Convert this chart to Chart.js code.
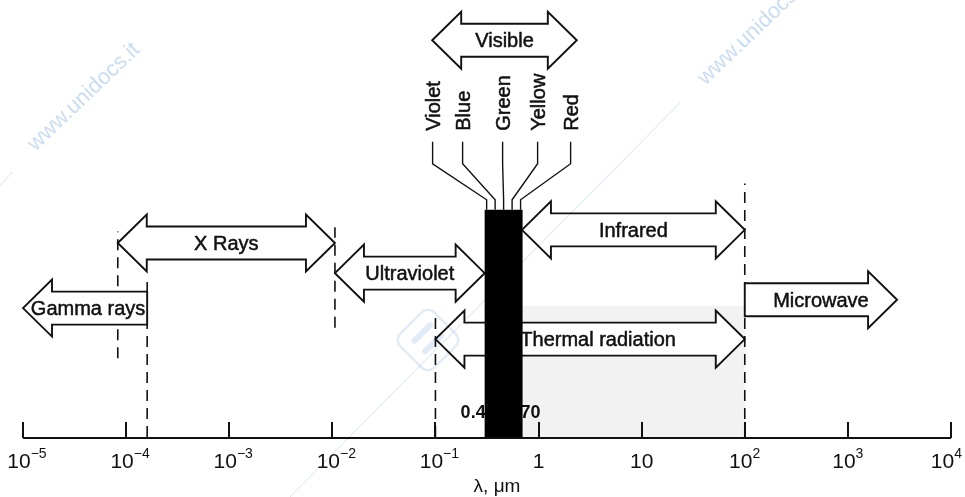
<!DOCTYPE html>
<html>
<head>
<meta charset="utf-8">
<script src="https://cdn.jsdelivr.net/npm/chart.js@4.4.1/dist/chart.umd.min.js"></script>
<style>
  html, body { margin: 0; padding: 0; background: #fff; }
  #wrap { width: 965px; height: 497px; position: relative; }
</style>
</head>
<body>
<div id="wrap"><canvas id="spectrum"></canvas></div>
<script>
// wavelength bands (micrometres) and the row each arrow sits on
const bandNames = ['Gamma rays', 'X Rays', 'Ultraviolet', 'Visible', 'Infrared', 'Microwave', 'Thermal radiation'];
const bandStart = [1e-5, 8.3e-5, 0.0106, 0.093, 0.69, 100, 0.1];
const bandEnd = [1.6e-4, 0.0106, 0.30, 2.35, 100, 3000, 100];
const bandLevel = [29.5, 44.4, 37.5, 90.8, 47.4, 31.4, 22.4];
const bandHeads = ['left', 'both', 'both', 'both', 'both', 'right', 'both'];

// the black visible strip
const visibleRange = [0.30, 0.70];
const visibleTop = 52;
const colorNames = ['Violet', 'Blue', 'Green', 'Yellow', 'Red'];
const edgeLabels = ['0.4', '70'];

// dashed boundaries
const boundaryAt = [8.3e-5, 1.6e-4, 0.0106, 0.1, 100];
const boundaryTop = [47, 36, 48, 28, 58];
const boundaryBottom = [18, 0, 25, 0, 0];

// stippled thermal area
const shadeRange = [0.7, 100];
const shadeTop = 30;

// axis
const tickValues = [1e-5, 1e-4, 1e-3, 1e-2, 1e-1, 1, 10, 100, 1000, 10000];
const tickBase = ['10', '10', '10', '10', '10', '1', '10', '10', '10', '10'];
const tickExp = ['\u22125', '\u22124', '\u22123', '\u22122', '\u22121', '', '', '2', '3', '4'];
const axisTitle = '\u03bb, \u03bcm';

const FONT = '"Liberation Sans", Arial, sans-serif';
const SHAFT = 16.5, HEAD = 28.5, HEAD_LEN = 29;
const labelOffsets = [-71, -41, -1, 34, 67]; // colour labels around strip centre
const textShift = [3, 0, 0, 0, 0, 0, 8];     // small nudges of arrow captions

function arrowPath(ctx, x1, x2, cy, heads) {
    ctx.beginPath();
    if (heads === 'left' || heads === 'both') {
        ctx.moveTo(x1, cy);
        ctx.lineTo(x1 + HEAD_LEN, cy - HEAD);
        ctx.lineTo(x1 + HEAD_LEN, cy - SHAFT);
    } else {
        ctx.moveTo(x1, cy - SHAFT);
    }
    if (heads === 'right' || heads === 'both') {
        ctx.lineTo(x2 - HEAD_LEN, cy - SHAFT);
        ctx.lineTo(x2 - HEAD_LEN, cy - HEAD);
        ctx.lineTo(x2, cy);
        ctx.lineTo(x2 - HEAD_LEN, cy + HEAD);
        ctx.lineTo(x2 - HEAD_LEN, cy + SHAFT);
    } else {
        ctx.lineTo(x2, cy - SHAFT);
        ctx.lineTo(x2, cy + SHAFT);
    }
    if (heads === 'left' || heads === 'both') {
        ctx.lineTo(x1 + HEAD_LEN, cy + SHAFT);
        ctx.lineTo(x1 + HEAD_LEN, cy + HEAD);
    } else {
        ctx.lineTo(x1, cy + SHAFT);
    }
    ctx.closePath();
}

function heavyText(ctx, text, x, y) {
    ctx.fillText(text, x, y);
    ctx.strokeText(text, x, y);
}

const spectrumPlugin = {
    id: 'spectrum',
    beforeDraw(chart) {
        const ctx = chart.ctx;
        ctx.save();
        ctx.fillStyle = '#fff';
        ctx.fillRect(0, 0, chart.width, chart.height);
        ctx.restore();
    },
    beforeDatasetsDraw(chart) {
        const ctx = chart.ctx, xs = chart.scales.x, ys = chart.scales.y;
        const l = xs.getPixelForValue(shadeRange[0]);
        const r = xs.getPixelForValue(shadeRange[1]);
        const t = ys.getPixelForValue(shadeTop);
        ctx.save();
        ctx.fillStyle = 'rgba(0,0,0,0.05)';
        ctx.fillRect(l, t, r - l, ys.getPixelForValue(0) - t);
        ctx.restore();
    },
    afterDatasetsDraw(chart) {
        const ctx = chart.ctx, xs = chart.scales.x, ys = chart.scales.y;
        const axisY = ys.getPixelForValue(0) + 1;
        ctx.save();

        // band arrows (outlines first, captions after the strip)
        const captions = [];
        bandNames.forEach((name, i) => {
            const x1 = xs.getPixelForValue(bandStart[i]);
            const x2 = xs.getPixelForValue(bandEnd[i]);
            const cy = ys.getPixelForValue(bandLevel[i]);
            arrowPath(ctx, x1, x2, cy, bandHeads[i]);
            ctx.fillStyle = '#fff';
            ctx.fill();
            ctx.strokeStyle = '#111';
            ctx.lineWidth = 1.9;
            ctx.lineJoin = 'miter';
            ctx.stroke();
            captions.push([name, (x1 + x2) / 2 + textShift[i], cy + 7]);
        });

        // strip edge values, then the strip over them
        const bl = xs.getPixelForValue(visibleRange[0]);
        const br = xs.getPixelForValue(visibleRange[1]);
        const bt = ys.getPixelForValue(visibleTop);
        ctx.font = 'bold 18px ' + FONT;
        ctx.fillStyle = '#111';
        ctx.textAlign = 'right';
        ctx.fillText(edgeLabels[0], bl + 1, 418);
        ctx.textAlign = 'left';
        ctx.fillText(edgeLabels[1], br - 2, 418);
        ctx.fillStyle = '#000';
        ctx.fillRect(bl, bt, br - bl, axisY - bt);

        ctx.fillStyle = '#111';
        ctx.strokeStyle = '#111';
        ctx.lineWidth = 0.5;
        ctx.font = '20px ' + FONT;
        ctx.textAlign = 'center';
        ctx.textBaseline = 'alphabetic';
        captions.forEach(c => heavyText(ctx, c[0], c[1], c[2]));

        // colour labels and leader lines
        const mid = (bl + br) / 2;
        colorNames.forEach((name, i) => {
            const lx = mid + labelOffsets[i];
            const ex = bl + 2 + i * (br - bl - 4) / (colorNames.length - 1);
            ctx.lineWidth = 1.4;
            ctx.beginPath();
            ctx.moveTo(lx, bt - 68);
            ctx.lineTo(lx, bt - 46);
            ctx.lineTo(ex, bt - 10);
            ctx.lineTo(ex, bt);
            ctx.stroke();
            ctx.save();
            ctx.translate(lx + 7, bt - 79);
            ctx.rotate(-Math.PI / 2);
            ctx.textAlign = 'left';
            ctx.lineWidth = 0.5;
            heavyText(ctx, name, 0, 0);
            ctx.restore();
        });

        // wavelength axis
        ctx.lineWidth = 2;
        ctx.beginPath();
        ctx.moveTo(xs.left, axisY);
        ctx.lineTo(xs.right, axisY);
        tickValues.forEach(v => {
            const px = Math.round(xs.getPixelForValue(v));
            ctx.moveTo(px, axisY);
            ctx.lineTo(px, axisY - 16);
        });
        ctx.stroke();
        tickValues.forEach((v, i) => {
            const px = xs.getPixelForValue(v);
            ctx.font = '21px ' + FONT;
            ctx.textAlign = 'center';
            if (tickExp[i]) {
                const bw = ctx.measureText(tickBase[i]).width;
                ctx.font = '14px ' + FONT;
                const ew = ctx.measureText(tickExp[i]).width;
                let cx = px - 4;
                if (cx + bw / 2 + ew > chart.width - 3) cx = chart.width - 3 - ew - bw / 2;
                ctx.font = '21px ' + FONT;
                ctx.fillText(tickBase[i], cx, 468);
                ctx.font = '14px ' + FONT;
                ctx.textAlign = 'left';
                ctx.fillText(tickExp[i], cx + bw / 2, 458);
            } else {
                ctx.fillText(tickBase[i], px, 468);
            }
        });
        ctx.font = '19px ' + FONT;
        ctx.textAlign = 'center';
        ctx.fillText(axisTitle, 497, 492);
        ctx.restore();
    },
    afterDraw(chart) {
        // faint scan watermarks
        const ctx = chart.ctx;
        ctx.save();
        ctx.globalCompositeOperation = 'multiply';
        ctx.strokeStyle = '#d3e4f5';
        ctx.lineWidth = 1;
        ctx.beginPath();
        ctx.moveTo(290, 497); ctx.lineTo(680, 103);
        ctx.moveTo(0, 186); ctx.lineTo(12, 172);
        ctx.stroke();
        ctx.fillStyle = '#c9ddf2';
        ctx.font = '22px ' + FONT;
        ctx.textAlign = 'center';
        ctx.textBaseline = 'middle';
        [[84, 97], [754, 31]].forEach(p => {
            ctx.save();
            ctx.translate(p[0], p[1]);
            ctx.rotate(-0.763);
            ctx.fillText('www.unidocs.it', 0, 0);
            ctx.restore();
        });
        ctx.translate(428, 340);
        ctx.rotate(Math.PI / 4);
        ctx.strokeStyle = '#e1ecf8';
        ctx.lineWidth = 2.5;
        ctx.beginPath();
        ctx.roundRect(-24, -24, 48, 48, 9);
        ctx.stroke();
        ctx.lineWidth = 6;
        ctx.lineCap = 'round';
        ctx.beginPath();
        ctx.moveTo(-9, -12); ctx.lineTo(-9, 10);
        ctx.moveTo(6, -12); ctx.lineTo(6, 10);
        ctx.stroke();
        ctx.restore();
    }
};

const boundarySets = boundaryAt.map((w, i) => ({
    data: [{ x: w, y: boundaryBottom[i] }, { x: w, y: boundaryTop[i] }],
    showLine: true,
    borderColor: '#111',
    borderWidth: 1.6,
    borderDash: [11, 7],
    pointRadius: 0
}));

new Chart(document.getElementById('spectrum'), {
    type: 'scatter',
    data: { datasets: boundarySets },
    options: {
        responsive: true,
        maintainAspectRatio: false,
        animation: false,
        layout: { padding: { left: 23, right: 14, top: 0, bottom: 60 } },
        plugins: { legend: { display: false }, tooltip: { enabled: false } },
        scales: {
            x: { type: 'logarithmic', min: 1e-5, max: 1e4, display: false },
            y: { type: 'linear', min: 0, max: 100, display: false }
        }
    },
    plugins: [spectrumPlugin]
});
</script>
</body>
</html>
